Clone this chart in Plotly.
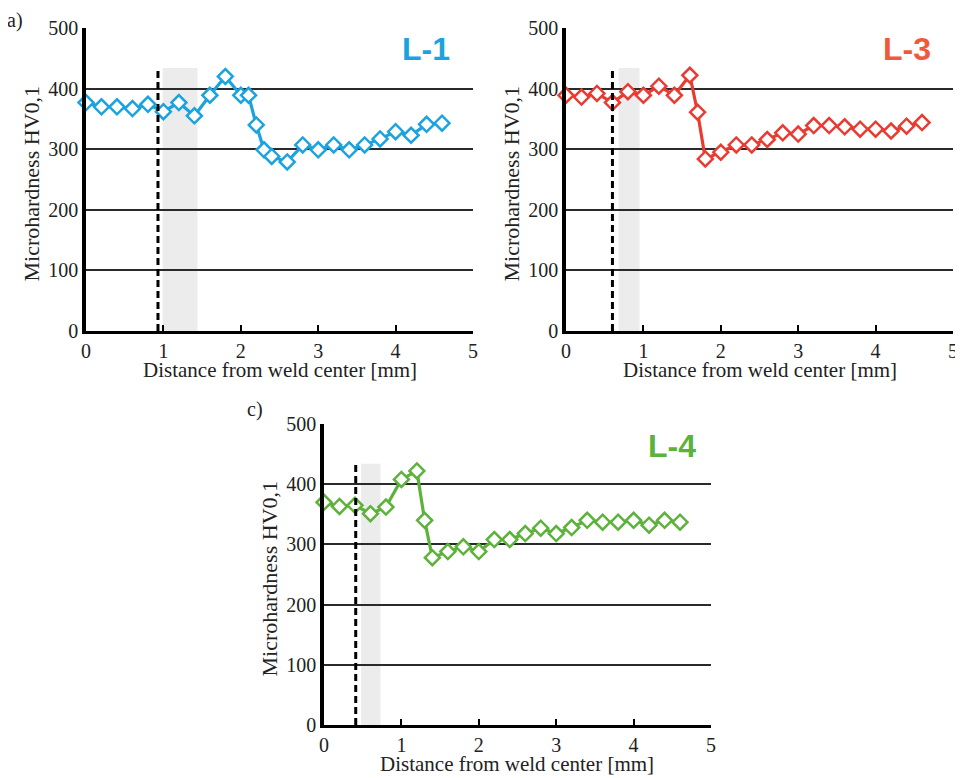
import plotly.graph_objects as go

# ---------------- data ----------------
x_l1 = [0.0, 0.2, 0.4, 0.6, 0.8, 1.0, 1.2, 1.4, 1.6, 1.8, 2.0, 2.1, 2.2, 2.3, 2.4,
        2.6, 2.8, 3.0, 3.2, 3.4, 3.6, 3.8, 4.0, 4.2, 4.4, 4.6]
hv_l1 = [377, 370, 370, 367, 374, 362, 377, 355, 389, 420, 389, 389, 340, 299, 288,
         279, 307, 299, 307, 299, 307, 317, 329, 323, 341, 343]

x_l3 = [0.0, 0.2, 0.4, 0.6, 0.8, 1.0, 1.2, 1.4, 1.6, 1.7, 1.8, 2.0, 2.2, 2.4, 2.6,
        2.8, 3.0, 3.2, 3.4, 3.6, 3.8, 4.0, 4.2, 4.4, 4.6]
hv_l3 = [389, 386, 392, 377, 395, 389, 404, 389, 422, 361, 284, 295, 307, 307, 316,
         327, 325, 339, 339, 337, 333, 333, 330, 338, 344]

x_l4 = [0.0, 0.2, 0.4, 0.6, 0.8, 1.0, 1.2, 1.3, 1.4, 1.6, 1.8, 2.0, 2.2, 2.4, 2.6,
        2.8, 3.0, 3.2, 3.4, 3.6, 3.8, 4.0, 4.2, 4.4, 4.6]
hv_l4 = [370, 363, 365, 351, 362, 408, 422, 340, 278, 288, 296, 288, 308, 308, 318,
         327, 318, 328, 340, 337, 337, 340, 332, 340, 337]

series_names = ["L-1", "L-3", "L-4"]
dash_x = [0.93, 0.60, 0.41]          # dashed boundary position [mm]
band_x = [(0.99, 1.44), (0.68, 0.95), (0.48, 0.73)]   # grey zone [mm]
zone_top = 434
y_ticks = [0, 100, 200, 300, 400, 500]
x_ticks = [0, 1, 2, 3, 4, 5]
x_title = "Distance from weld center [mm]"
y_title = "Microhardness HV0,1"

colors = ["#1ba3e0", "#ea3b32", "#5cb23a"]
label_colors = ["#1ba3e0", "#f05a3c", "#5cb23a"]

# the page body has an 8px margin; the figure is sized/placed to compensate
OFF = 8
W, H = 963 - OFF, 778 - OFF
# pixel geometry (in window pixels) of the three plot areas: (x0, x1, ytop, ybottom)
boxes = [(86, 473, 28, 331), (566, 953, 28, 331), (324, 711, 424, 725)]
label_pos = [(426, 49), (907, 49), (672, 446)]


def px(x):
    return (x - OFF) / W


def py(y):
    return 1 - (y - OFF) / H


serif = "Liberation Serif"
fig = go.Figure()

xs = [x_l1, x_l3, x_l4]
ys = [hv_l1, hv_l3, hv_l4]

annotations = []
shapes = []
for i in range(3):
    x0, x1, yt, yb = boxes[i]
    sfx = "" if i == 0 else str(i + 1)
    xa, ya = "x" + sfx, "y" + sfx
    fig.add_trace(go.Scatter(
        x=xs[i], y=ys[i], mode="lines+markers", xaxis=xa, yaxis=ya,
        line=dict(color=colors[i], width=3.2),
        marker=dict(symbol="diamond", size=11.5, color="white",
                    line=dict(color=colors[i], width=2.5)),
        showlegend=False, cliponaxis=False))
    shapes.append(dict(type="rect", xref=xa, yref=ya, x0=band_x[i][0], x1=band_x[i][1],
                       y0=0, y1=zone_top, fillcolor="#ececec", line=dict(width=0),
                       layer="below"))
    shapes.append(dict(type="line", xref=xa, yref=ya, x0=dash_x[i], x1=dash_x[i],
                       y0=0, y1=zone_top, line=dict(color="black", width=3, dash="7px,4px"),
                       layer="above"))
    layout_x = dict(domain=[px(x0), px(x1)], range=[0, 5], tickvals=x_ticks,
                    showgrid=False, zeroline=False, showline=True, linecolor="black",
                    linewidth=3, ticks="inside", ticklen=6, tickwidth=2, tickcolor="black",
                    tickfont=dict(family=serif, size=20, color="#222"), anchor=ya,
                    fixedrange=True, automargin=False)
    layout_y = dict(domain=[py(yb), py(yt)], range=[0, 500], tickvals=y_ticks,
                    showgrid=True, gridcolor="#2a2a2a", gridwidth=1.8, zeroline=False,
                    showline=True, linecolor="black", linewidth=3.5, ticks="",
                    tickfont=dict(family=serif, size=20, color="#222"), anchor=xa,
                    fixedrange=True, automargin=False)
    fig.layout["xaxis" + sfx] = layout_x
    fig.layout["yaxis" + sfx] = layout_y
    annotations.append(dict(text=x_title, xref="paper", yref="paper",
                            x=px((x0 + x1) / 2), y=py(yb + 39),
                            xanchor="center", yanchor="middle", showarrow=False,
                            font=dict(family=serif, size=21, color="#222")))
    annotations.append(dict(text=y_title, xref="paper", yref="paper",
                            x=px(x0 - 55), y=py((yt + yb) / 2 + 4),
                            xanchor="center", yanchor="middle", showarrow=False,
                            textangle=-90, font=dict(family=serif, size=22, color="#222")))
    lx, ly = label_pos[i]
    annotations.append(dict(text="<b>" + series_names[i] + "</b>", xref="paper", yref="paper",
                            x=px(lx), y=py(ly),
                            xanchor="center", yanchor="middle", showarrow=False,
                            font=dict(family="Liberation Sans", size=32, color=label_colors[i])))

annotations.append(dict(text="a)", xref="paper", yref="paper", x=px(15), y=1.0,
                        xanchor="center", yanchor="top", showarrow=False, borderpad=0,
                        font=dict(family=serif, size=20, color="#222")))
annotations.append(dict(text="c)", xref="paper", yref="paper", x=px(255), y=py(410),
                        xanchor="center", yanchor="middle", showarrow=False,
                        font=dict(family=serif, size=20, color="#222")))

fig.update_layout(width=W, height=H, margin=dict(l=0, r=0, t=0, b=0, pad=0),
                  paper_bgcolor="white", plot_bgcolor="white",
                  annotations=annotations, shapes=shapes)

fig.write_html("out.html")
